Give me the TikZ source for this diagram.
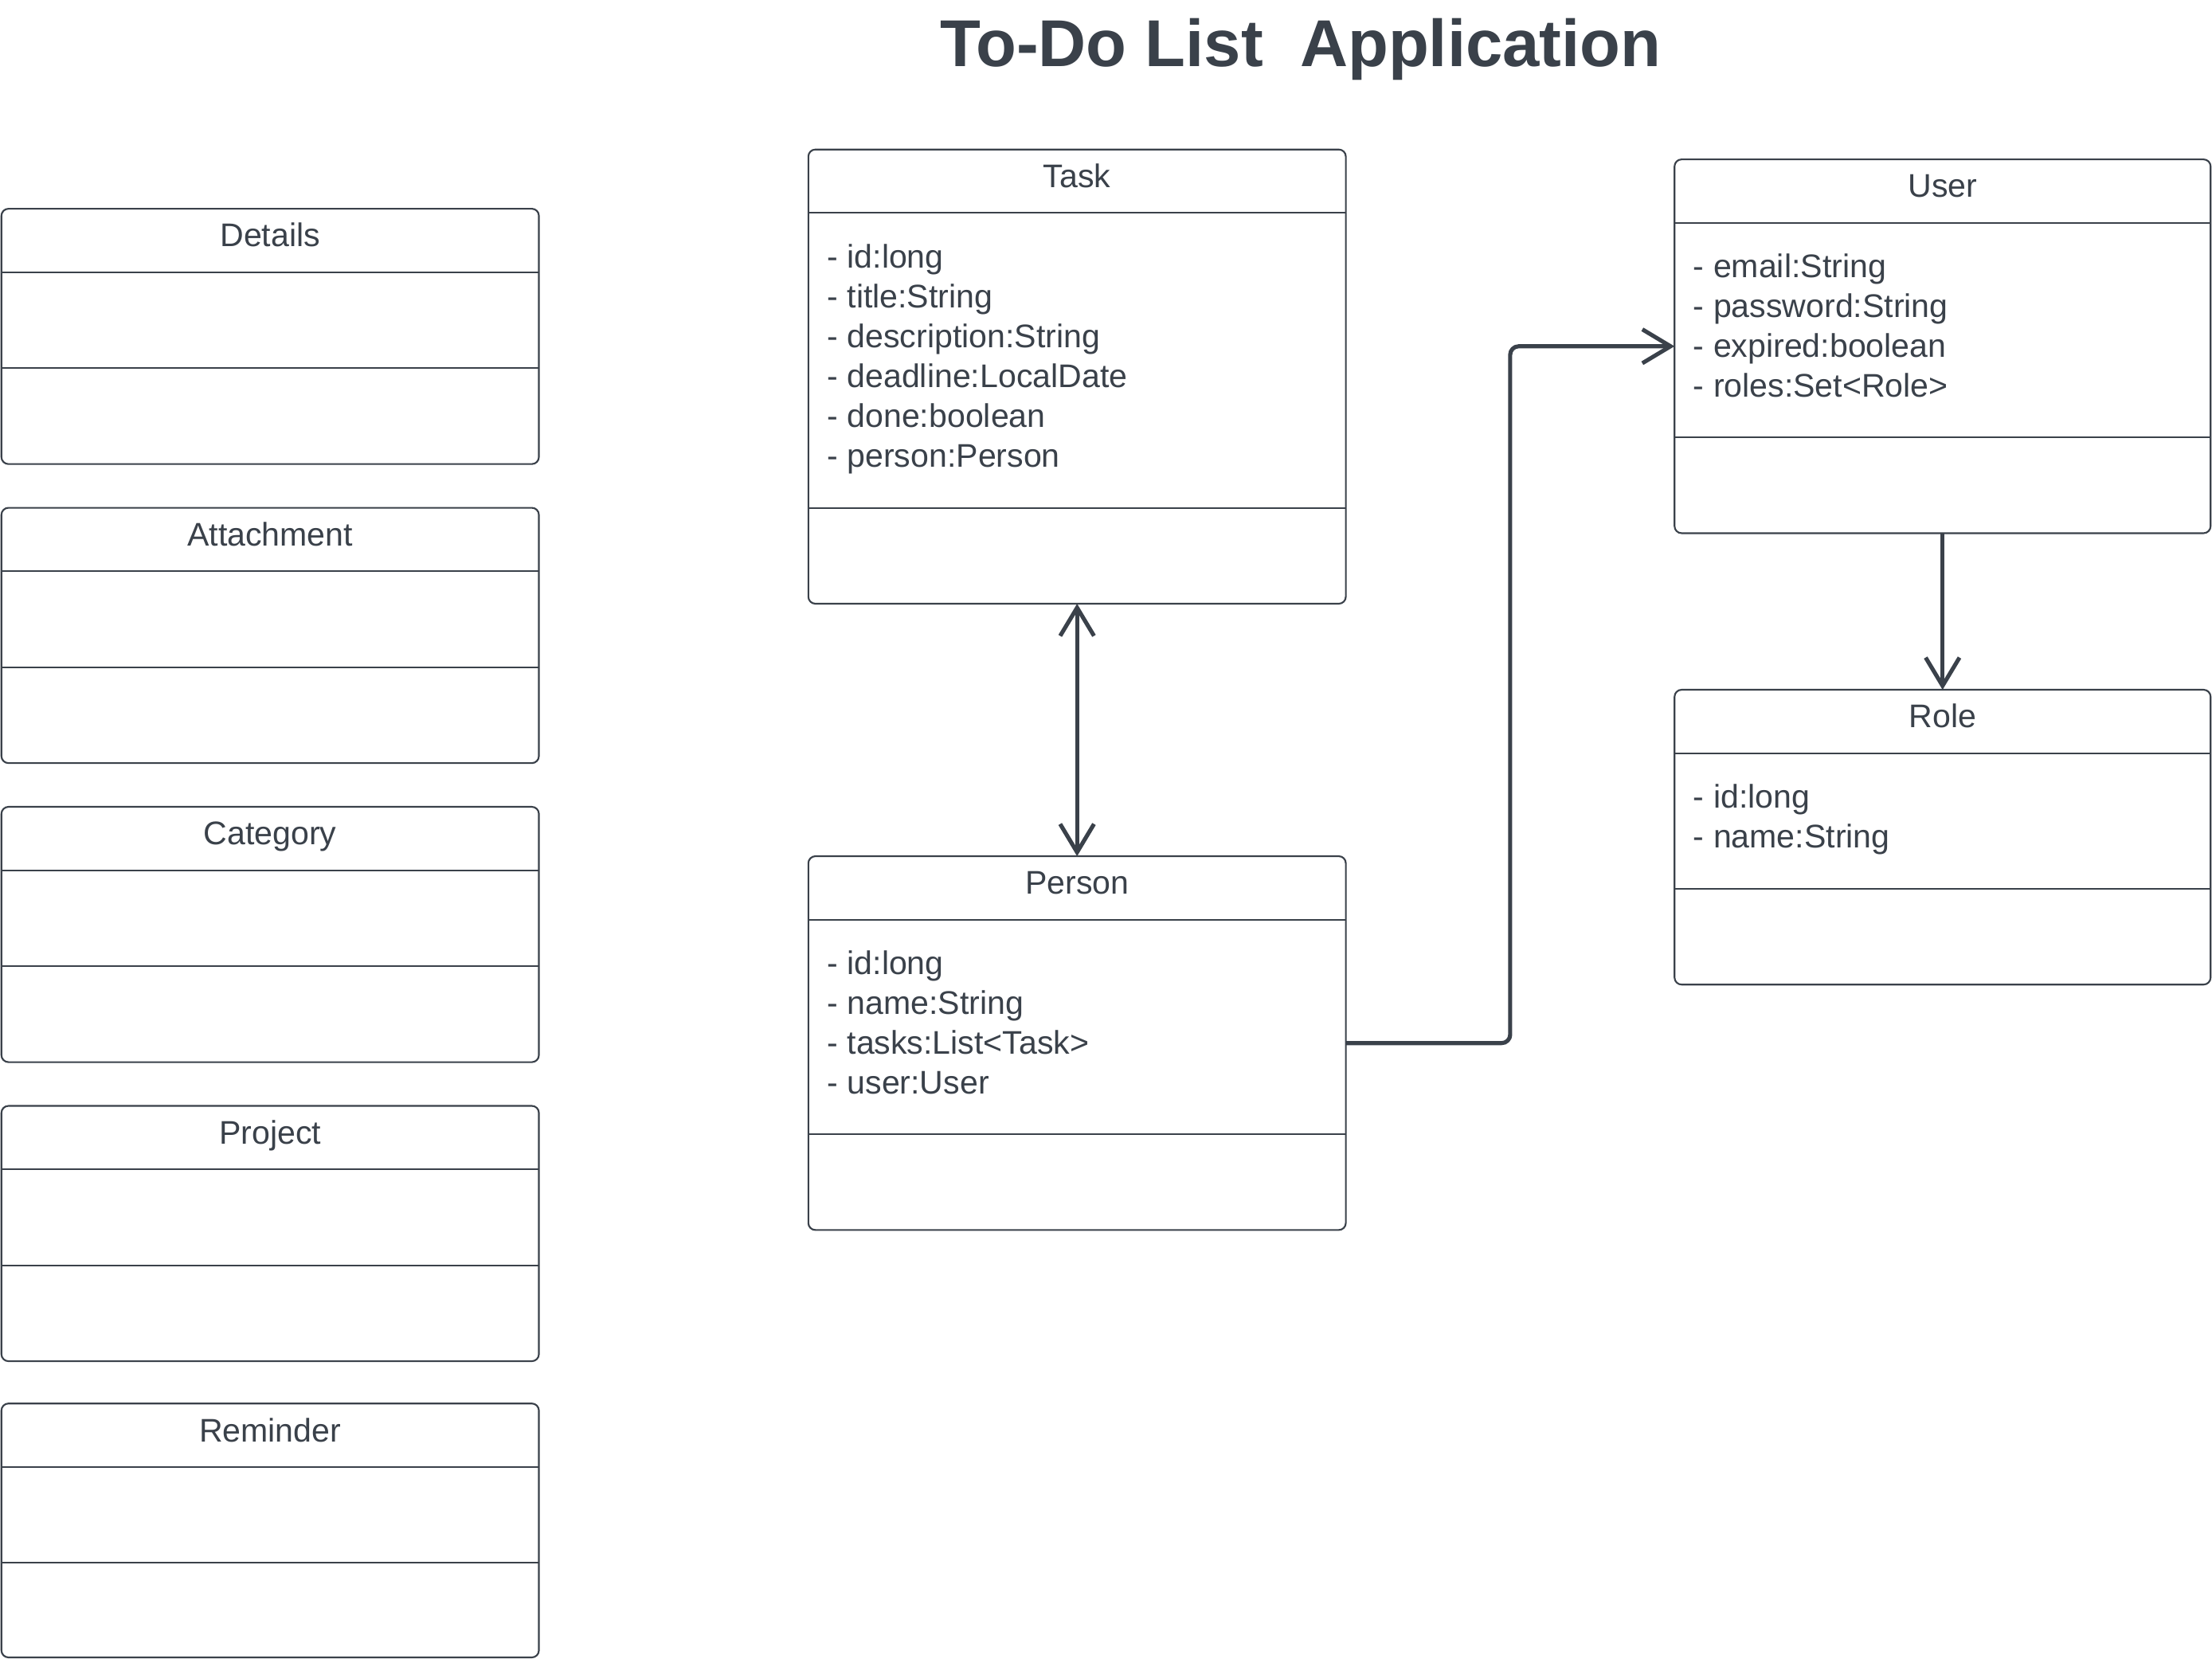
\documentclass[tikz,border=0pt]{standalone}
\usepackage{fontspec}
\setmainfont{Liberation Sans}
\usetikzlibrary{arrows.meta,calc}
\definecolor{ink}{HTML}{3A414A}
\tikzset{
  clsbox/.style={draw=ink, line width=0.6pt, rounded corners=2.5pt, inner sep=0pt, outer sep=0pt, anchor=north west, fill=white},
  hdr/.style={anchor=base, text=ink, font=\fontsize{11.6}{13}\selectfont, inner sep=0pt},
  attr/.style={anchor=base west, text=ink, font=\fontsize{11.6}{13}\selectfont, inner sep=0pt},
  sepline/.style={draw=ink, line width=0.6pt},
  conn/.style={draw=ink, line width=1.45pt, line join=round},
  barb/.tip={Straight Barb[length=10pt,width=12pt,line width=1.45pt]},
}
\newcommand\mkclass[7]{%
  \node[clsbox, minimum width=#4*0.5pt, minimum height=#5*0.5pt] (#1) at (#2,#3) {};
  \draw[sepline] ($(#1.north west)+(0,45)$) -- ($(#1.north east)+(0,45)$);
  \draw[sepline] ($(#1.north west)+(0,#6)$) -- ($(#1.north east)+(0,#6)$);
  \node[hdr] (#1-title) at ($(#1.north)+(0,27)$) {#7};
}
\begin{document}
\begin{tikzpicture}[x=0.5pt,y=-0.5pt]
\useasboundingbox (0,0) rectangle (1568,1176);
\fill[white] (0,0) rectangle (1568,1176);

\node[anchor=base, text=ink, font=\fontsize{23.5}{26}\selectfont\bfseries, inner sep=0pt] (title) at (922,47) {To-Do List\ \ Application};

% left column
\mkclass{details}{1}{148}{381}{181}{113}{Details}
\mkclass{attachment}{1}{360}{381}{181}{113}{Attachment}
\mkclass{category}{1}{572}{381}{181}{113}{Category}
\mkclass{project}{1}{784}{381}{181}{113}{Project}
\mkclass{reminder}{1}{995}{381}{180}{113}{Reminder}

% main classes
\mkclass{task}{573}{106}{381}{322}{254}{Task}
\mkclass{person}{573}{607}{381}{265}{197}{Person}
\mkclass{user}{1187}{113}{380}{265}{197}{User}
\mkclass{role}{1187}{489}{380}{209}{141}{Role}

\foreach \t [count=\i] in {- id:long, - title:String, - description:String, - deadline:LocalDate, - done:boolean, - person:Person}
  \node[attr] (task-a\i) at ($(task.north west)+(13,84+28.2*\i-28.2)$) {\t};
\foreach \t [count=\i] in {- id:long, - name:String, - tasks:List<Task>, - user:User}
  \node[attr] (person-a\i) at ($(person.north west)+(13,84+28.2*\i-28.2)$) {\t};
\foreach \t [count=\i] in {- email:String, - password:String, - expired:boolean, - roles:Set<Role>}
  \node[attr] (user-a\i) at ($(user.north west)+(13,84+28.2*\i-28.2)$) {\t};
\foreach \t [count=\i] in {- id:long, - name:String}
  \node[attr] (role-a\i) at ($(role.north west)+(13,84+28.2*\i-28.2)$) {\t};

% connectors
\draw[conn, barb-barb] (task.south) -- (person.north);
\draw[conn, -barb, rounded corners=3pt] (person.east) -| ($(person.east)!0.5!(user.west)$) |- (user.west);
\draw[conn, -barb] (user.south) -- (role.north);
\end{tikzpicture}
\end{document}
